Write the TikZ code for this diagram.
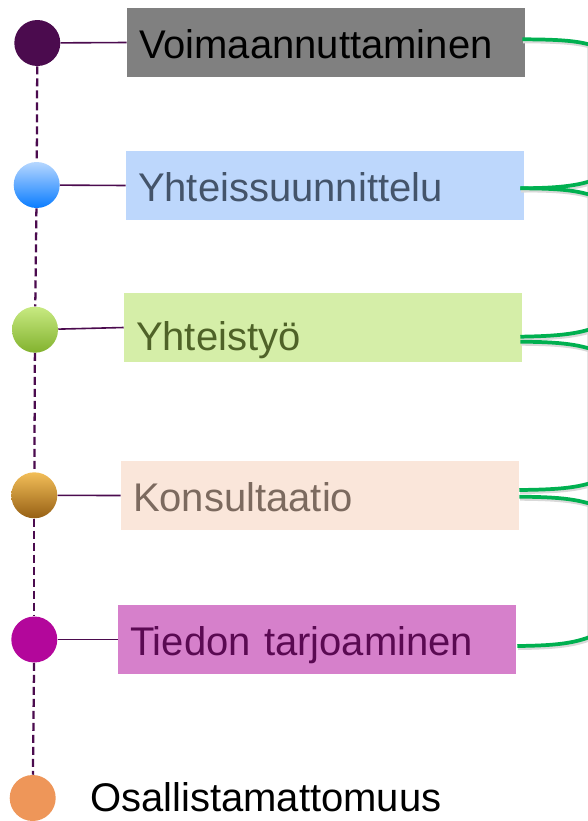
\documentclass[tikz,border=0pt]{standalone}
\usepackage{fontspec}
\setmainfont{Liberation Sans}
\usetikzlibrary{calc}

\definecolor{stemcol}{HTML}{4B0B4E}
\definecolor{bracecol}{HTML}{00B050}
\definecolor{boxgray}{HTML}{808080}
\definecolor{boxblue}{HTML}{BDD7FC}
\definecolor{textblue}{HTML}{44546A}
\definecolor{boxgreen}{HTML}{D5EEA8}
\definecolor{textgreen}{HTML}{4F6228}
\definecolor{boxpeach}{HTML}{FAE6DA}
\definecolor{textpeach}{HTML}{7C6A5F}
\definecolor{boxpink}{HTML}{D680CB}
\definecolor{textpink}{HTML}{5A0A52}

\tikzset{
  dot/.style={circle,minimum size=34.5pt,inner sep=0pt},
  levelbox/.style={rectangle,minimum width=298.5pt,minimum height=51.75pt,
    text width=280.5pt,inner xsep=9pt,inner ysep=0pt,align=left,
    text height=26pt,text depth=1.5pt,font=\fontsize{30}{36}\selectfont},
  stem/.style={stemcol,line width=1.7pt,dash pattern=on 6pt off 3pt},
  tie/.style={stemcol,line width=1.2pt},
  arm/.style={bracecol,line width=2.8pt,
    preaction={draw=black!15,line width=2.8pt,transform canvas={shift={(0.6pt,-1.6pt)}}}}
}

\begin{document}
\begin{tikzpicture}[x=0.75pt,y=-0.75pt]
  \useasboundingbox (0,0) rectangle (588,821);

  % brace shadow
  \draw[black!10,line width=1pt] (587.5,45) -- (587.5,640);

  \node[levelbox,fill=boxgray,text=black] (b1) at (326,42.5) {Voimaannuttaminen};
  \node[levelbox,fill=boxblue,text=textblue] (b2) at (325,185.5) {Yhteissuunnittelu};
  \node[levelbox,fill=boxgreen,text=textgreen,text height=36pt] (b3) at (323,327.5) {Yhteistyö};
  \node[levelbox,fill=boxpeach,text=textpeach] (b4) at (320,495.5) {Konsultaatio};
  \node[levelbox,fill=boxpink,text=textpink] (b5) at (317,639.5) {Tiedon tarjoaminen};

  \node[dot,fill=stemcol] (c1) at (37.3,43) {};
  \node[dot,top color={rgb,255:red,182;green,215;blue,255},middle color={rgb,255:red,140;green,196;blue,255},
        bottom color={rgb,255:red,10;green,124;blue,255}] (c2) at (36.7,185) {};
  \node[dot,top color={rgb,255:red,200;green,234;blue,130},middle color={rgb,255:red,180;green,222;blue,100},
        bottom color={rgb,255:red,130;green,178;blue,46}] (c3) at (35,329.7) {};
  \node[dot,top color={rgb,255:red,242;green,190;blue,88},middle color={rgb,255:red,232;green,152;blue,18},
        bottom color={rgb,255:red,150;green,96;blue,20}] (c4) at (34.3,495.3) {};
  \node[dot,fill={rgb,255:red,179;green,7;blue,155}] (c5) at (34.3,639.5) {};
  \node[dot,fill={rgb,255:red,238;green,150;blue,89}] (c6) at (32.7,798) {};

  \node[anchor=base west,inner sep=0pt,font=\fontsize{30}{36}\selectfont] (none) at (90,811) {Osallistamattomuus};

  \draw[stem] (c1) -- (c2);
  \draw[stem] (c2) -- (c3);
  \draw[stem] (c3) -- (c4);
  \draw[stem] (c4) -- (c5);
  \draw[stem] (c5) -- (c6);

  \draw[tie] (c1) -- (b1.west);
  \draw[tie] (c2) -- (b2.west);
  \draw[tie] (c3) -- (b3.west);
  \draw[tie] (c4) -- (b4.west);
  \draw[tie] (c5) -- (b5.west);

  \coordinate (e1) at (604,50);
  \coordinate (e2a) at (604,176);
  \coordinate (e2b) at (604,200);
  \coordinate (e3a) at (604,324);
  \coordinate (e3b) at (604,354);
  \coordinate (e4a) at (604,478);
  \coordinate (e4b) at (604,509);
  \coordinate (e5) at (604,630);

  \draw[arm] ($(b1.east)+(-3,-3.2)$) .. controls (565,39.5) and (586,41) .. (e1);
  \draw[arm] ($(b2.east)+(-4,2.8)$) .. controls (560,188) and (582,186) .. (e2a);
  \draw[arm] ($(b2.east)+(-4,2.8)$) .. controls (560,188.5) and (582,190) .. (e2b);
  \draw[arm] ($(b3.east)+(-2,9.2)$) .. controls (560,336) and (582,334) .. (e3a);
  \draw[arm] ($(b3.east)+(-2,14.2)$) .. controls (560,342) and (582,344) .. (e3b);
  \draw[arm] ($(b4.east)+(0,-5.5)$) .. controls (560,489.5) and (582,488) .. (e4a);
  \draw[arm] ($(b4.east)+(0,1.2)$) .. controls (560,497) and (582,499) .. (e4b);
  \draw[arm] ($(b5.east)+(1,6.5)$) .. controls (560,645.5) and (582,643) .. (e5);
\end{tikzpicture}
\end{document}
